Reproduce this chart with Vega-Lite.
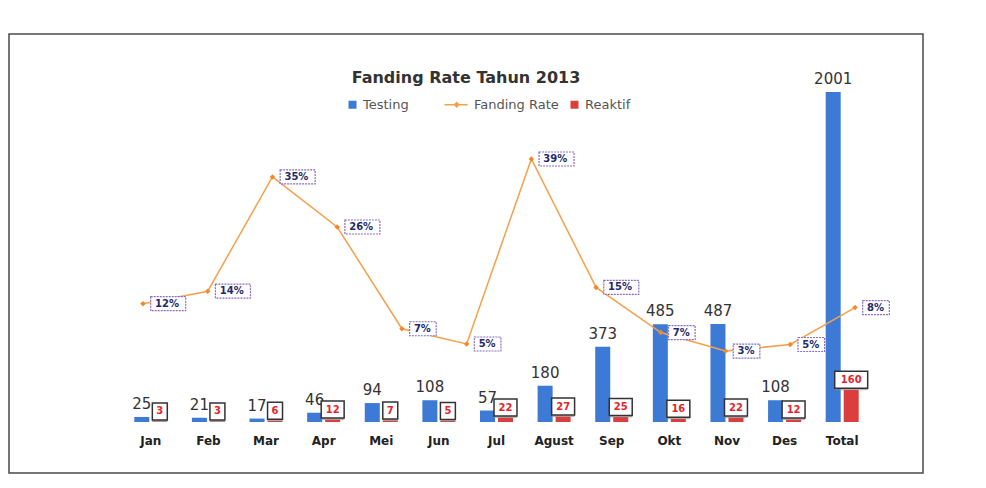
{
  "$schema": "https://vega.github.io/schema/vega-lite/v6.json",
  "width": 914,
  "height": 439,
  "autosize": "none",
  "padding": {"left": 9, "top": 34, "right": 63, "bottom": 15},
  "background": "white",
  "config": {"view": {"stroke": "#4a4a4a", "strokeWidth": 1.5}, "font": "DejaVu Sans"},
  "title": {"text": "Fanding Rate Tahun 2013", "anchor": "middle", "frame": "group", "offset": -60, "baseline": "middle", "fontSize": 16, "fontWeight": "bold", "color": "#333333", "font": "DejaVu Sans"},
  "data": {"values": [
    {"Bulan": "Jan", "Testing": 25, "Reaktif": 3, "rate": 0.12, "rateLabel": "12%"},
    {"Bulan": "Feb", "Testing": 21, "Reaktif": 3, "rate": 0.143, "rateLabel": "14%"},
    {"Bulan": "Mar", "Testing": 17, "Reaktif": 6, "rate": 0.353, "rateLabel": "35%"},
    {"Bulan": "Apr", "Testing": 46, "Reaktif": 12, "rate": 0.261, "rateLabel": "26%"},
    {"Bulan": "Mei", "Testing": 94, "Reaktif": 7, "rate": 0.074, "rateLabel": "7%"},
    {"Bulan": "Jun", "Testing": 108, "Reaktif": 5, "rate": 0.046, "rateLabel": "5%"},
    {"Bulan": "Jul", "Testing": 57, "Reaktif": 22, "rate": 0.386, "rateLabel": "39%"},
    {"Bulan": "Agust", "Testing": 180, "Reaktif": 27, "rate": 0.15, "rateLabel": "15%"},
    {"Bulan": "Sep", "Testing": 373, "Reaktif": 25, "rate": 0.067, "rateLabel": "7%"},
    {"Bulan": "Okt", "Testing": 485, "Reaktif": 16, "rate": 0.033, "rateLabel": "3%"},
    {"Bulan": "Nov", "Testing": 487, "Reaktif": 22, "rate": 0.045, "rateLabel": "5%"},
    {"Bulan": "Des", "Testing": 108, "Reaktif": 12, "rate": null, "rateLabel": null},
    {"Bulan": "Total", "Testing": 2001, "Reaktif": 160, "rate": 0.113, "rateLabel": "8%"}
  ]},
  "resolve": {"scale": {"x": "independent", "y": "independent"}},
  "layer": [
    {
      "transform": [{"fold": ["Testing", "Reaktif"], "as": ["seri", "nilai"]}],
      "encoding": {
        "x": {"field": "Bulan", "type": "nominal", "sort": null,
              "scale": {"range": [113, 862], "paddingInner": 0, "paddingOuter": 0},
              "axis": {"title": null, "orient": "bottom", "offset": -40, "domain": false, "ticks": false, "labelAngle": 0, "labelPadding": 2, "labelFontSize": 12, "labelFontWeight": "bold", "labelColor": "#222222", "labelFont": "DejaVu Sans", "labelBaseline": "top"}},
        "xOffset": {"field": "seri", "type": "nominal", "sort": ["Testing", "Reaktif"], "scale": {"paddingInner": 0.167, "paddingOuter": 0.683}},
        "y": {"field": "nilai", "type": "quantitative", "scale": {"domain": [0, 1638], "range": [388, 58], "clamp": true, "nice": false, "zero": false}, "axis": null}
      },
      "layer": [
        {
          "mark": {"type": "bar"},
          "encoding": {
            "y2": {"datum": 0},
            "color": {"field": "seri", "type": "nominal",
              "scale": {"domain": ["Testing", "Fanding Rate", "Reaktif"], "range": ["#3d7ad6", "#f5a04a", "#dc3d3d"]},
              "legend": {"title": null, "orient": "none", "legendX": 337, "legendY": 64, "direction": "horizontal", "columns": 3, "symbolType": "square", "symbolSize": 64, "labelFontSize": 13, "labelColor": "#555555", "labelFont": "DejaVu Sans", "gridAlign": "all", "columnPadding": -7, "labelOffset": 4,
                "encode": {"symbols": {"update": {
                  "shape": {"signal": "datum.value === 'Fanding Rate' ? 'M-4.75,0H1M-1.7,-0.55L-1.15,0L-1.7,0.55L-2.25,0Z' : 'square'"},
                  "stroke": {"signal": "datum.value === 'Fanding Rate' ? '#f5a04a' : 'transparent'"},
                  "strokeWidth": {"value": 1.5}}}}}}
          }
        },
        {
          "transform": [{"filter": "datum.seri === 'Testing'"}],
          "mark": {"type": "text", "baseline": "bottom", "dy": -5, "fontSize": 15, "color": "#333333", "font": "DejaVu Sans"},
          "encoding": {"text": {"field": "nilai", "type": "quantitative"}}
        },
        {
          "transform": [{"filter": "datum.seri === 'Reaktif'"}],
          "mark": {"type": "point", "filled": true, "size": 289, "color": "#8a8a8a", "opacity": 0.6, "xOffset": 2, "yOffset": -8, "strokeWidth": 0},
          "encoding": {"shape": {"condition": [{"test": "datum.nilai >= 100", "value": "M-1.94,-1H1.94V1H-1.94Z"}, {"test": "datum.nilai >= 10", "value": "M-1.35,-1H1.35V1H-1.35Z"}], "value": "M-0.88,-1H0.88V1H-0.88Z"}}
        },
        {
          "transform": [{"filter": "datum.seri === 'Reaktif'"}],
          "mark": {"type": "point", "filled": true, "fill": "white", "stroke": "#333333", "strokeWidth": 1.5, "size": 289, "opacity": 1, "yOffset": -10},
          "encoding": {"shape": {"condition": [{"test": "datum.nilai >= 100", "value": "M-1.94,-1H1.94V1H-1.94Z"}, {"test": "datum.nilai >= 10", "value": "M-1.35,-1H1.35V1H-1.35Z"}], "value": "M-0.88,-1H0.88V1H-0.88Z"}}
        },
        {
          "transform": [{"filter": "datum.seri === 'Reaktif'"}],
          "mark": {"type": "text", "baseline": "middle", "dy": -10, "fontSize": 10, "fontWeight": "bold", "color": "#e3262a", "font": "DejaVu Sans"},
          "encoding": {"text": {"field": "nilai", "type": "quantitative"}}
        }
      ]
    },
    {
      "transform": [{"filter": "isValid(datum.rate)"}],
      "encoding": {
        "x": {"field": "Bulan", "type": "nominal", "sort": null, "scale": {"type": "point", "range": [134, 846], "padding": 0}, "axis": null},
        "y": {"field": "rate", "type": "quantitative", "scale": {"domain": [0, 0.5], "range": [335, 63], "nice": false}, "axis": null}
      },
      "layer": [
        {"mark": {"type": "line", "color": "#f5a04a", "strokeWidth": 1.5}},
        {"mark": {"type": "point", "shape": "diamond", "filled": true, "size": 30, "color": "#f08a30", "opacity": 1}},
        {
          "mark": {"type": "point", "filled": true, "fill": "white", "stroke": "#8a6cc0", "strokeWidth": 1.2, "strokeDash": [2, 1], "size": 196, "opacity": 1},
          "encoding": {"shape": {"condition": {"test": "length(datum.rateLabel) >= 3", "value": "M1.1,-1H6.1V1H1.1Z"}, "value": "M1.1,-1H4.9V1H1.1Z"}}
        },
        {
          "mark": {"type": "text", "align": "left", "dx": 12, "baseline": "middle", "fontSize": 10, "fontWeight": "bold", "color": "#1d2b6b", "font": "DejaVu Sans"},
          "encoding": {"text": {"field": "rateLabel", "type": "nominal"}}
        }
      ]
    }
  ]
}
